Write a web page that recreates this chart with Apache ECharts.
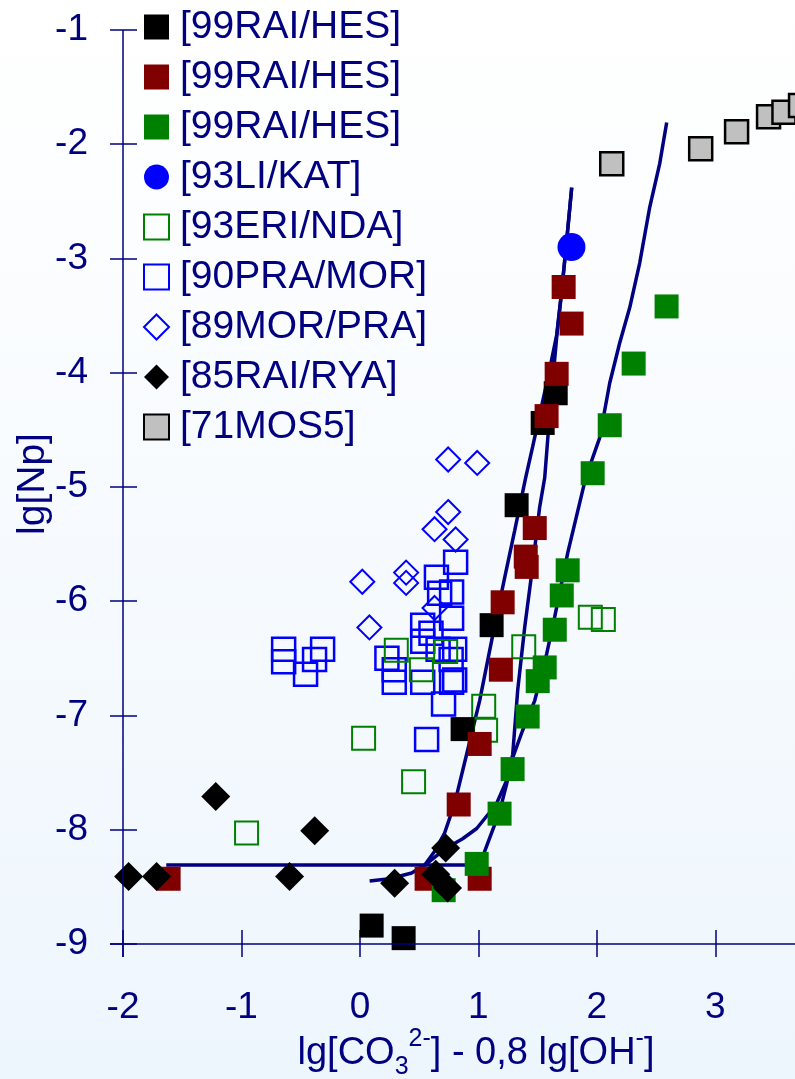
<!DOCTYPE html>
<html>
<head>
<meta charset="utf-8">
<script src="https://cdn.jsdelivr.net/npm/echarts@6/dist/echarts.min.js"></script>
<style>
  html, body { margin: 0; padding: 0; }
  #chart1 { width: 795px; height: 1079px; }
</style>
</head>
<body>
<div id="chart1"></div>
<script>
// tick values
var xTicks = [-2, -1, 0, 1, 2, 3, 4];
var yTicks = [-9, -8, -7, -6, -5, -4, -3, -2, -1];

// data: [x, lg[Np]]
var rai99Black = [[1.653, -4.18], [1.543, -4.44], [1.323, -5.16], [1.112, -6.21], [0.867, -7.12], [0.099, -8.84], [0.369, -8.95]];
var rai99Red = [[1.720, -3.25], [1.787, -3.57], [1.661, -4.01], [1.576, -4.38], [1.476, -5.36], [1.400, -5.61], [1.408, -5.70],
  [1.205, -6.01], [1.190, -6.60], [1.011, -7.25], [0.834, -7.78], [1.011, -8.43], [0.563, -8.43], [-1.615, -8.43]];
var rai99Green = [[2.589, -3.42], [2.311, -3.92], [2.109, -4.46], [1.965, -4.88], [1.754, -5.73], [1.704, -5.95], [1.645, -6.25],
  [1.560, -6.58], [1.501, -6.70], [1.416, -7.01], [1.289, -7.47], [1.179, -7.86], [0.986, -8.30], [0.707, -8.53]];
var li93 = [[1.786, -2.90]];
var eri93 = [[1.945, -6.14], [2.055, -6.16], [1.383, -6.40], [1.045, -6.92], [1.061, -7.13], [0.453, -7.58], [-0.957, -8.03],
  [0.307, -6.43], [0.519, -6.60], [0.724, -6.44], [0.031, -7.20]];
var pra90 = [[-0.644, -6.42], [-0.644, -6.53], [-0.315, -6.42], [-0.383, -6.51], [-0.459, -6.64],
  [0.808, -5.66], [0.646, -5.79], [0.774, -5.92], [0.673, -5.93], [0.774, -6.15], [0.53, -6.21], [0.60, -6.28], [0.53, -6.35],
  [0.66, -6.42], [0.80, -6.42], [0.77, -6.51], [0.228, -6.50], [0.29, -6.60], [0.29, -6.71], [0.53, -6.71], [0.774, -6.71],
  [0.80, -6.69], [0.706, -6.90], [0.563, -7.21]];
var mor89 = [[0.745, -4.76], [0.99, -4.79], [0.745, -5.22], [0.63, -5.37], [0.808, -5.46], [0.39, -5.75], [0.39, -5.84],
  [0.02, -5.83], [0.63, -6.06], [0.08, -6.23]];
var rai85 = [[-1.953, -8.41], [-1.717, -8.41], [-1.217, -7.71], [-0.382, -8.01], [-0.594, -8.41], [0.293, -8.47], [0.724, -8.16],
  [0.64, -8.39], [0.74, -8.51]];
var mos71 = [[2.126, -2.17], [2.877, -2.04], [3.18, -1.89], [3.45, -1.76], [3.58, -1.72], [3.72, -1.66]];

// model curves
var curveA = [[0.547, -8.31], [0.631, -8.19], [0.715, -8.03], [0.800, -7.77], [0.901, -7.34], [1.011, -6.87], [1.121, -6.30],
  [1.223, -5.79], [1.307, -5.38], [1.399, -4.92], [1.458, -4.65], [1.526, -4.33], [1.594, -4.01], [1.661, -3.67],
  [1.704, -3.28], [1.746, -2.84], [1.788, -2.38]];
var curveB = [[-1.635, -8.31], [1.027, -8.31], [1.053, -8.19], [1.180, -7.84], [1.239, -7.60], [1.290, -7.34], [1.332, -6.78],
  [1.391, -6.23], [1.45, -5.76], [1.517, -5.18], [1.56, -4.92], [1.585, -4.59], [1.61, -4.24], [1.636, -3.98], [1.661, -3.69],
  [1.704, -3.28], [1.746, -2.84], [1.788, -2.38]];
var curveC = [[0.082, -8.45], [0.251, -8.43], [0.437, -8.38], [0.547, -8.31], [0.732, -8.16], [0.867, -8.08], [0.986, -7.99],
  [1.095, -7.85], [1.154, -7.77], [1.239, -7.57], [1.29, -7.37], [1.374, -7.13], [1.476, -6.87], [1.577, -6.46], [1.644, -6.14],
  [1.754, -5.58], [1.906, -4.92], [2.024, -4.57], [2.109, -4.09], [2.193, -3.74], [2.278, -3.43], [2.362, -3.04],
  [2.447, -2.55], [2.531, -2.17], [2.590, -1.81]];

var navy = '#000080';
var font = "'Liberation Sans', Arial, sans-serif";
var names = ['[99RAI/HES]', '[99RAI/HES] ', '[99RAI/HES]  ', '[93LI/KAT]', '[93ERI/NDA]', '[90PRA/MOR]', '[89MOR/PRA]', '[85RAI/RYA]', '[71MOS5]'];

function curve(d) {
  return { type: 'line', data: d, symbol: 'none', silent: true, z: 1,
    lineStyle: { color: navy, width: 3.5 } };
}

var axisLines = curve([]);
axisLines.markLine = {
  silent: true, symbol: ['none', 'none'], animation: false,
  label: { show: false },
  lineStyle: { color: navy, width: 1.5, type: 'solid' },
  data: [{ xAxis: -2 }, { yAxis: -9 }]
};

function dots(name, d, symbol, size, style) {
  style.opacity = 1;
  return { name: name, type: 'scatter', data: d, symbol: symbol, symbolSize: size, itemStyle: style };
}

var option = {
  animation: false,
  backgroundColor: new echarts.graphic.LinearGradient(0, 0, 0, 1, [
    { offset: 0, color: '#ffffff' },
    { offset: 1, color: '#eef6fd' }
  ]),
  textStyle: { fontFamily: font },
  grid: { left: 110, top: 30, width: 732, height: 927, outerBoundsMode: 'none', containLabel: false },
  legend: {
    data: names,
    orient: 'vertical',
    left: 138,
    top: 2,
    itemWidth: 25,
    itemHeight: 25,
    itemGap: 10,
    textStyle: { color: navy, fontSize: 39, fontFamily: font, lineHeight: 40, padding: [0, 0, 0, 6] }
  },
  xAxis: {
    type: 'value',
    min: -2.11,
    max: 4.07,
    splitLine: { show: false },
    axisLine: { show: false, onZero: false },
    axisTick: { show: true, inside: true, length: 27, customValues: xTicks, lineStyle: { color: navy, width: 1.5 } },
    axisLabel: { customValues: xTicks, color: navy, fontSize: 37, margin: 32, fontFamily: font },
    name: '{a|lg[CO}{sub|3}{sup|2-}{a|] - 0,8 lg[OH}{sup|-}{a|]}',
    nameLocation: 'middle',
    nameGap: 70,
    nameMoveOverlap: false,
    nameTextStyle: {
      color: navy,
      rich: {
        a: { fontSize: 38, color: navy, fontFamily: font },
        sub: { fontSize: 25, color: navy, fontFamily: font, padding: [28, 0, 0, 0] },
        sup: { fontSize: 25, color: navy, fontFamily: font, padding: [0, 0, 28, 0] }
      }
    }
  },
  yAxis: {
    type: 'value',
    min: -9.115,
    max: -1,
    splitLine: { show: false },
    axisLine: { show: false, onZero: false },
    axisTick: { show: true, inside: true, length: 27, customValues: yTicks, lineStyle: { color: navy, width: 1.5 } },
    axisLabel: { customValues: yTicks, color: navy, fontSize: 37, margin: 22, fontFamily: font },
    name: 'lg[Np]',
    nameLocation: 'middle',
    nameGap: 57,
    nameMoveOverlap: false,
    nameTextStyle: { color: navy, fontSize: 39, fontFamily: font, padding: [0, 0, 0, 19] }
  },
  series: [
    axisLines,
    curve(curveA),
    curve(curveB),
    curve(curveC),
    dots(names[8], mos71, 'rect', 23, { color: '#c0c0c0', borderColor: '#000000', borderWidth: 2.5 }),
    dots(names[5], pra90, 'rect', 23, { color: 'rgba(255,255,255,0)', borderColor: '#0000ff', borderWidth: 2.5 }),
    dots(names[4], eri93, 'rect', 23, { color: 'rgba(255,255,255,0)', borderColor: '#008000', borderWidth: 2 }),
    dots(names[6], mor89, 'diamond', 24, { color: 'rgba(255,255,255,0)', borderColor: '#0000ff', borderWidth: 2 }),
    dots(names[0], rai99Black, 'rect', 24, { color: '#000000' }),
    dots(names[1], rai99Red, 'rect', 24, { color: '#800000' }),
    dots(names[2], rai99Green, 'rect', 24, { color: '#008000' }),
    dots(names[3], li93, 'circle', 28, { color: '#0000ff' }),
    dots(names[7], rai85, 'diamond', 29, { color: '#000000' })
  ]
};

var myChart = echarts.init(document.getElementById('chart1'));
myChart.setOption(option);
</script>
</body>
</html>
